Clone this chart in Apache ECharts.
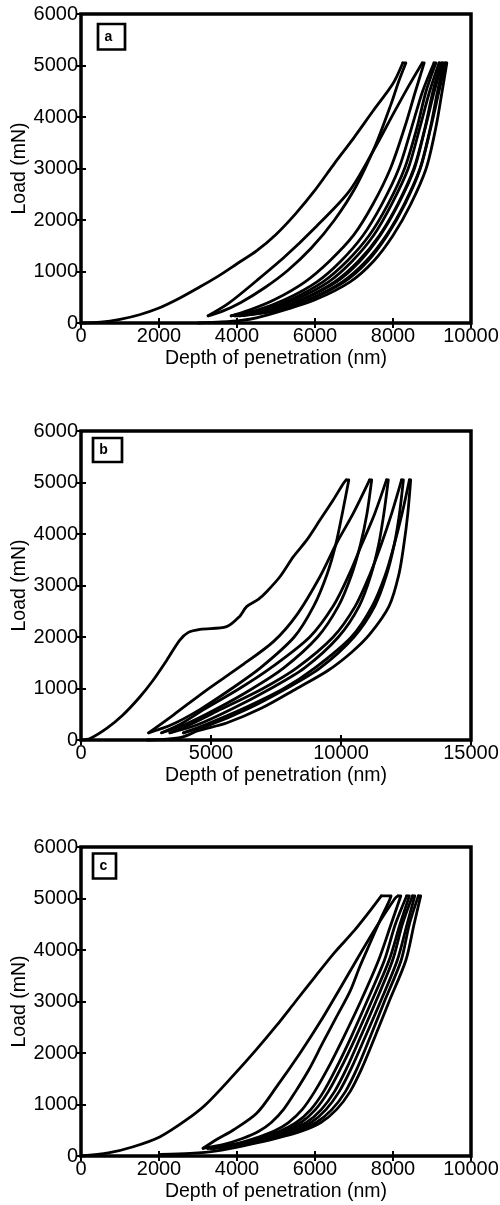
<!DOCTYPE html>
<html>
<head>
<meta charset="utf-8">
<script src="https://cdn.jsdelivr.net/npm/echarts@6/dist/echarts.min.js"></script>
<style>
html,body{margin:0;padding:0;background:#fff;}
#chart{width:500px;height:1205px;}
</style>
</head>
<body>
<div id="chart"></div>
<script>
// ---------- tick labels ----------
const xTicksA = [0, 2000, 4000, 6000, 8000, 10000];
const xTicksB = [0, 5000, 10000, 15000];
const xTicksC = [0, 2000, 4000, 6000, 8000, 10000];
const yTicks = [0, 1000, 2000, 3000, 4000, 5000, 6000];
const panelLetters = ['a', 'b', 'c'];
const xTitle = 'Depth of penetration (nm)';
const yTitle = 'Load (mN)';

// ---------- panel a ----------
const aLoading = [[0,0],[500,15],[1000,70],[1500,160],[2000,290],[2500,470],[3000,680],[3500,900],[4000,1150],[4500,1400],[5000,1720],[5500,2120],[6000,2580],[6500,3100],[7000,3600],[7500,4130],[8000,4650],[8250,5050]];
const aUnload = [
  [[8250,5050],[8330,5050],[8150,4700],[7950,4250],[7550,3450],[7050,2650],[6500,2000],[5900,1450],[5300,1020],[4700,680],[4100,400],[3600,220],[3260,140]],
  [[8750,5050],[8800,5050],[8576,4500],[8300,3800],[7934,3000],[7481,2300],[6985,1700],[6369,1200],[5746,800],[4956,450],[4318,250],[3850,140]],
  [[9050,5050],[9100,5050],[8847,4500],[8617,3800],[8297,3000],[7866,2300],[7388,1700],[6818,1200],[6204,800],[5370,450],[4668,250],[3950,140]],
  [[9180,5050],[9230,5050],[9024,4500],[8824,3800],[8534,3000],[8116,2300],[7650,1700],[7110,1200],[6502,800],[5640,450],[4896,250],[4000,140]],
  [[9270,5050],[9310,5050],[9142,4500],[8962,3800],[8692,3000],[8283,2300],[7825,1700],[7305,1200],[6701,800],[5820,450],[5048,250],[4060,140]],
  [[9350,5050],[9380,5050],[9260,4500],[9100,3800],[8850,3000],[8450,2300],[8000,1700],[7500,1200],[6900,800],[6000,450],[5200,250],[4500,100],[4100,50],[3600,20],[3000,0]]
];
const aReload = [
  [[3260,140],[3780,380],[4500,820],[5230,1290],[6000,1850],[6870,2550],[7500,3350],[8000,4050],[8400,4600],[8750,5050]],
  [[3850,140],[4520,250],[5220,450],[6050,800],[6660,1200],[7230,1700],[7710,2300],[8150,3000],[8480,3800],[8760,4500],[9050,5050]],
  [[3950,140],[4750,250],[5490,450],[6350,800],[6950,1200],[7500,1700],[7960,2300],[8390,3000],[8690,3800],[8940,4500],[9180,5050]],
  [[4000,140],[4900,250],[5670,450],[6550,800],[7150,1200],[7670,1700],[8130,2300],[8550,3000],[8830,3800],[9060,4500],[9270,5050]],
  [[4060,140],[5050,250],[5850,450],[6750,800],[7350,1200],[7850,1700],[8300,2300],[8700,3000],[8970,3800],[9180,4500],[9350,5050]]
];

// ---------- panel b ----------
const bLoading = [[0,0],[350,30],[1000,230],[1600,480],[2270,840],[2780,1165],[3300,1550],[3800,1940],[4130,2090],[4580,2150],[5600,2200],[6100,2400],[6370,2590],[6820,2730],[7140,2880],[7650,3170],[8170,3560],[8680,3880],[9190,4270],[9700,4660],[10090,4980],[10200,5050]];
const bUnload = [
  [[10200,5050],[10300,5050],[10050,4400],[9800,3800],[9450,3200],[8950,2600],[8200,2000],[6900,1400],[5800,1000],[4600,600],[3500,300],[2600,140]],
  [[11100,5050],[11180,5050],[11000,4400],[10750,3800],[10400,3200],[9900,2600],[9100,2000],[7800,1400],[6600,1000],[5200,600],[4000,300],[3100,140]],
  [[11750,5050],[11820,5050],[11650,4400],[11450,3800],[11150,3200],[10700,2600],[9900,2000],[8600,1400],[7300,1000],[5800,600],[4500,300],[3420,140]],
  [[12330,5050],[12400,5050],[12250,4400],[12050,3800],[11750,3200],[11300,2600],[10500,2000],[9200,1400],[7900,1000],[6400,600],[5000,300],[3940,140]],
  [[12630,5050],[12680,5050],[12570,4400],[12420,3800],[12220,3200],[11850,2600],[11100,2050],[10400,1700],[9500,1350],[8300,1000],[6950,620],[5600,330],[4500,180],[3920,60],[3300,15],[2550,0]]
];
const bReload = [
  [[2600,140],[3550,485],[4830,970],[6115,1424],[7400,1910],[8300,2430],[9190,3170],[9830,3820],[10470,4400],[11100,5050]],
  [[3100,140],[3800,300],[4750,600],[6100,1000],[7300,1400],[8800,2000],[9700,2600],[10300,3200],[10800,3800],[11300,4400],[11750,5050]],
  [[3420,140],[4200,300],[5400,600],[7000,1000],[8300,1400],[9700,2000],[10550,2600],[11100,3200],[11550,3800],[11950,4400],[12330,5050]],
  [[3940,140],[4800,300],[6200,600],[7800,1000],[9000,1400],[10400,2000],[11200,2600],[11700,3200],[12050,3800],[12350,4400],[12630,5050]]
];

// ---------- panel c ----------
const cLoading = [[0,0],[700,60],[1340,180],[2030,375],[2700,700],[3200,1000],[3900,1560],[4500,2070],[5000,2520],[5500,3000],[6000,3480],[6500,3950],[7000,4370],[7350,4700],[7700,5050]];
const cUnload = [
  [[7700,5050],[7950,5050],[7900,4950],[7670,4580],[7410,4130],[7150,3680],[6900,3200],[6550,2700],[6200,2200],[5860,1700],[5500,1250],[5190,900],[4880,650],[4560,480],[4140,340],[3640,220],[3130,150]],
  [[8130,5050],[8200,5050],[7950,4500],[7630,3800],[7170,3000],[6730,2300],[6330,1700],[5990,1250],[5670,900],[5320,650],[4940,480],[4440,340],[3870,220],[3250,150]],
  [[8350,5050],[8420,5050],[8180,4500],[7900,3800],[7450,3000],[7040,2300],[6660,1700],[6340,1250],[6010,900],[5640,650],[5210,480],[4660,340],[4040,220],[3330,150]],
  [[8500,5050],[8560,5050],[8360,4500],[8110,3800],[7680,3000],[7280,2300],[6930,1700],[6620,1250],[6280,900],[5900,650],[5430,480],[4830,340],[4170,220],[3400,150]],
  [[8650,5050],[8710,5050],[8540,4500],[8330,3800],[7900,3000],[7530,2300],[7200,1700],[6900,1250],[6550,900],[6150,650],[5650,480],[5000,340],[4300,220],[3480,100],[2800,50],[2050,30]]
];
const cReload = [
  [[3130,150],[3500,330],[3906,505],[4504,829],[5017,1346],[5615,1994],[6130,2600],[6600,3200],[7100,3850],[7600,4480],[8050,5000],[8130,5050]],
  [[3250,150],[3920,220],[4540,340],[5090,480],[5520,650],[5890,900],[6220,1250],[6540,1700],[6920,2300],[7330,3000],[7780,3800],[8060,4500],[8350,5050]],
  [[3330,150],[4050,220],[4710,340],[5310,480],[5780,650],[6160,900],[6500,1250],[6810,1700],[7160,2300],[7560,3000],[7990,3800],[8240,4500],[8500,5050]],
  [[3400,150],[4180,220],[4880,340],[5530,480],[6030,650],[6430,900],[6780,1250],[7080,1700],[7410,2300],[7780,3000],[8210,3800],[8420,4500],[8650,5050]]
];

// ---------- layout ----------
const FONT = 'Liberation Sans, Arial, Helvetica, sans-serif';
const panels = [
  {top: 14, xTicks: xTicksA, loading: aLoading, unload: aUnload, reload: aReload,
   box: {x: 98, y: 24, w: 27, h: 25.5}, letter: {x: 108.5, y: 37}},
  {top: 431, xTicks: xTicksB, loading: bLoading, unload: bUnload, reload: bReload,
   box: {x: 93, y: 438, w: 29, h: 24}, letter: {x: 103.5, y: 450}},
  {top: 847, xTicks: xTicksC, loading: cLoading, unload: cUnload, reload: cReload,
   box: {x: 93, y: 853.5, w: 23, h: 25}, letter: {x: 103.5, y: 866.5}}
];
const gridLeft = 81, gridW = 390, gridH = 309;

const grid = [], xAxis = [], yAxis = [], series = [], graphic = [];
const tickStyle = {show: true, inside: true, length: 5, lineStyle: {color: '#000', width: 2}};
panels.forEach((p, i) => {
  grid.push({left: gridLeft, top: p.top, width: gridW, height: gridH, show: true,
    containLabel: false, outerBoundsMode: 'none',
    borderColor: '#000', borderWidth: 3.5, backgroundColor: 'transparent'});
  const xmin = p.xTicks[0], xmax = p.xTicks[p.xTicks.length - 1], xint = p.xTicks[1] - p.xTicks[0];
  const ymin = yTicks[0], ymax = yTicks[yTicks.length - 1], yint = yTicks[1] - yTicks[0];
  xAxis.push({type: 'value', gridIndex: i, position: 'bottom', min: xmin, max: xmax, interval: xint,
    axisLine: {show: false}, axisTick: tickStyle, splitLine: {show: false},
    axisLabel: {color: '#000', fontSize: 20, fontFamily: FONT, margin: 3, hideOverlap: false, formatter: v => String(v)},
    name: xTitle, nameLocation: 'middle', nameGap: 26, nameMoveOverlap: false,
    nameTextStyle: {color: '#000', fontSize: 19.5, fontFamily: FONT}});
  xAxis.push({type: 'value', gridIndex: i, position: 'top', min: xmin, max: xmax, interval: xint,
    axisLine: {show: false}, axisTick: tickStyle, splitLine: {show: false}, axisLabel: {show: false}});
  yAxis.push({type: 'value', gridIndex: i, position: 'left', min: ymin, max: ymax, interval: yint,
    axisLine: {show: false}, axisTick: tickStyle, splitLine: {show: false},
    axisLabel: {color: '#000', fontSize: 20, fontFamily: FONT, margin: 3, hideOverlap: false, formatter: v => String(v)},
    name: yTitle, nameLocation: 'middle', nameGap: 51, nameMoveOverlap: false,
    nameTextStyle: {color: '#000', fontSize: 19.5, fontFamily: FONT}});
  yAxis.push({type: 'value', gridIndex: i, position: 'right', min: ymin, max: ymax, interval: yint,
    axisLine: {show: false}, axisTick: tickStyle, splitLine: {show: false}, axisLabel: {show: false}});

  const curves = [p.loading].concat(p.unload, p.reload);
  curves.forEach(c => {
    series.push({type: 'line', xAxisIndex: 2 * i, yAxisIndex: 2 * i, data: c,
      symbol: 'none', smooth: 0.3, clip: false, silent: true,
      lineStyle: {color: '#000', width: 2.8, cap: 'round', join: 'round'}});
  });

  graphic.push({type: 'rect', shape: {x: p.box.x, y: p.box.y, width: p.box.w, height: p.box.h},
    style: {fill: '#fff', stroke: '#000', lineWidth: 2.7}, z: 100});
  graphic.push({type: 'text', x: p.letter.x, y: p.letter.y, z: 101,
    style: {text: panelLetters[i], fontSize: 14, fontWeight: 'bold', fontFamily: FONT, fill: '#000',
      align: 'center', verticalAlign: 'middle'}});
});

const chart = echarts.init(document.getElementById('chart'), null, {renderer: 'canvas'});
chart.setOption({animation: false, backgroundColor: '#fff', grid, xAxis, yAxis, series, graphic});
</script>
</body>
</html>
